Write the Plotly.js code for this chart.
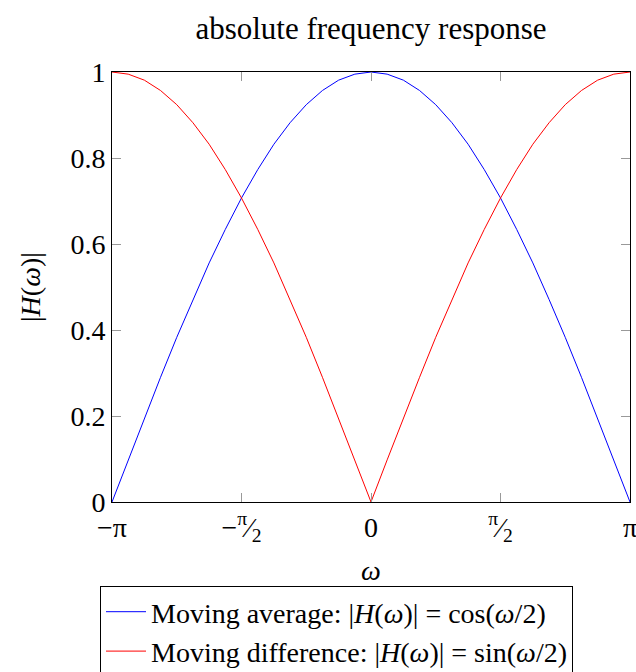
<!DOCTYPE html>
<html>
<head>
<meta charset="utf-8">
<script src="https://cdn.plot.ly/plotly-3.0.1.min.js"></script>
<style>html,body{margin:0;padding:0;background:#fff;}#plot{width:636px;height:672px;}</style>
</head>
<body>
<div id="plot"></div>
<script>
// omega values (radians), step pi/16
var omega = [-3.1416, -2.945, -2.749, -2.553, -2.356, -2.160, -1.963, -1.767, -1.571, -1.374, -1.178, -0.982, -0.785, -0.589, -0.393, -0.196, 0,
             0.196, 0.393, 0.589, 0.785, 0.982, 1.178, 1.374, 1.571, 1.767, 1.963, 2.160, 2.356, 2.553, 2.749, 2.945, 3.1416];
// Moving average |H|
var movingAverage = [0.000, 0.098, 0.195, 0.290, 0.383, 0.471, 0.556, 0.634, 0.707, 0.773, 0.832, 0.882, 0.924, 0.957, 0.981, 0.995, 1.000,
                     0.995, 0.981, 0.957, 0.924, 0.882, 0.832, 0.773, 0.707, 0.634, 0.556, 0.471, 0.383, 0.290, 0.195, 0.098, 0.000];
// Moving difference |H|
var movingDifference = [1.000, 0.995, 0.981, 0.957, 0.924, 0.882, 0.832, 0.773, 0.707, 0.634, 0.556, 0.471, 0.383, 0.290, 0.195, 0.098, 0.000,
                        0.098, 0.195, 0.290, 0.383, 0.471, 0.556, 0.634, 0.707, 0.773, 0.832, 0.882, 0.924, 0.957, 0.981, 0.995, 1.000];
var xTickVals = [-3.1415, -1.5708, 0, 1.5708, 3.1415];
var xTickText = ['\u2212\u03c0', '\u2212<sup>\u03c0</sup>\u2044<sub>2</sub>', '0', '<sup>\u03c0</sup>\u2044<sub>2</sub>', '\u03c0'];
var yTickVals = [0, 0.2, 0.4, 0.6, 0.8, 1];
var yTickText = ['0', '0.2', '0.4', '0.6', '0.8', '1'];
var xAxisTitle = '<i>\u03c9</i>';
var yAxisTitle = '|<i>H</i>(<i>\u03c9</i>)|';
var seriesNames = ['Moving average: |<i>H</i>(<i>\u03c9</i>)| = cos(<i>\u03c9</i>/2)',
                   'Moving difference: |<i>H</i>(<i>\u03c9</i>)| = sin(<i>\u03c9</i>/2)'];

var serif = 'Liberation Serif, DejaVu Serif, serif';
var traces = [
  {x: omega, y: movingAverage, type: 'scatter', mode: 'lines', name: seriesNames[0],
   line: {color: '#0000ff', width: 1}},
  {x: omega, y: movingDifference, type: 'scatter', mode: 'lines', name: seriesNames[1],
   line: {color: '#ff0000', width: 1}}
];
var layout = {
  width: 636, height: 672,
  margin: {l: 112, r: 6, t: 72, b: 170, autoexpand: false},
  paper_bgcolor: '#fff', plot_bgcolor: '#fff',
  font: {family: serif, size: 28, color: '#000'},
  title: {text: 'absolute frequency response', font: {family: serif, size: 31, color: '#000'},
          x: 0.5, xref: 'paper', xanchor: 'center', y: 1 - 28/672, yanchor: 'middle'},
  xaxis: {range: [-3.1416, 3.1416], tickvals: xTickVals, ticktext: xTickText,
          showgrid: false, zeroline: false, showline: true, linecolor: '#000', linewidth: 1, mirror: 'ticks',
          ticks: 'inside', ticklen: 9, tickcolor: '#999', tickwidth: 1, ticklabeloverflow: 'allow',
          tickfont: {family: serif, size: 28}},
  yaxis: {range: [0, 1], tickvals: yTickVals, ticktext: yTickText,
          showgrid: false, zeroline: false, showline: true, linecolor: '#000', linewidth: 1, mirror: 'ticks',
          ticks: 'inside', ticklen: 9, tickcolor: '#999', tickwidth: 1,
          tickfont: {family: serif, size: 28}},
  annotations: [
    {text: xAxisTitle, xref: 'paper', yref: 'paper', x: 0.5, y: (502 - 570) / 430,
     xanchor: 'center', yanchor: 'middle', showarrow: false, font: {family: serif, size: 28}},
    {text: yAxisTitle, xref: 'paper', yref: 'paper', x: (30 - 112) / 518, y: 0.5, textangle: -90,
     xanchor: 'center', yanchor: 'middle', showarrow: false, font: {family: serif, size: 28}}
  ],
  showlegend: true,
  legend: {xref: 'container', yref: 'container', x: 100/636, xanchor: 'left', y: 1 - 586/672, yanchor: 'top',
           orientation: 'v', bordercolor: '#000', borderwidth: 1, bgcolor: '#fff',
           font: {family: serif, size: 28, color: '#000'}, tracegroupgap: 0, itemwidth: 40}
};
Plotly.newPlot('plot', traces, layout, {displayModeBar: false, staticPlot: true});
</script>
</body>
</html>
